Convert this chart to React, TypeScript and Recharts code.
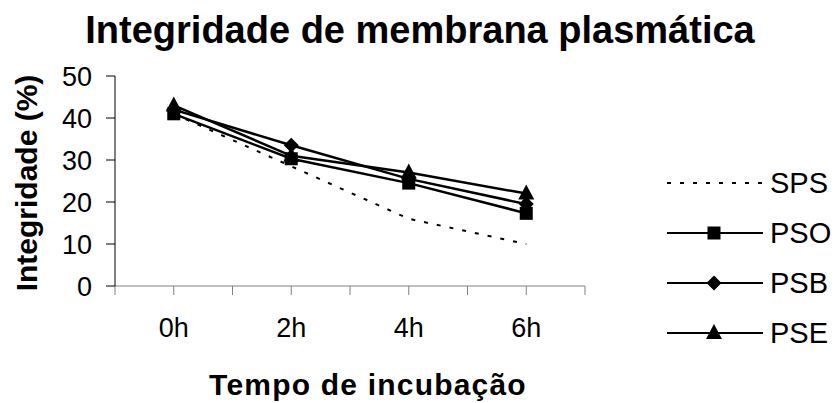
import React from "react";
import { LineChart, Line, XAxis, YAxis, Legend } from "recharts";

const hours = [0, 2, 4, 6];
const sps = [41, 28.5, 16, 10];
const pso = [41, 30.3, 24.5, 17.3];
const psb = [42, 33.5, 25.5, 19.5];
const pse = [43, 31, 27, 22];
const yTicks = [0, 10, 20, 30, 40, 50];
const xTicks = [-1, 0, 1, 2, 3, 4, 5, 6, 7];

const data = hours.map((h, i) => ({
  hour: h,
  SPS: sps[i],
  PSO: pso[i],
  PSB: psb[i],
  PSE: pse[i],
}));

const FONT = "'Liberation Sans', Arial, Helvetica, sans-serif";

const Square = ({ cx, cy }: any) => (
  <rect x={cx - 6.5} y={cy - 6.5} width={13} height={13} fill="#000" />
);
const Diamond = ({ cx, cy }: any) => (
  <polygon
    points={`${cx},${cy - 7.5} ${cx + 7.5},${cy} ${cx},${cy + 7.5} ${cx - 7.5},${cy}`}
    fill="#000"
  />
);
const Triangle = ({ cx, cy }: any) => (
  <polygon
    points={`${cx},${cy - 9} ${cx + 8},${cy + 6} ${cx - 8},${cy + 6}`}
    fill="#000"
  />
);

const legendItems = [
  { name: "SPS", dash: "4 9", Mark: null },
  { name: "PSO", dash: undefined, Mark: Square },
  { name: "PSB", dash: undefined, Mark: Diamond },
  { name: "PSE", dash: undefined, Mark: Triangle },
];

const renderLegend = () => (
  <svg width={178} height={210}>
    {legendItems.map((it, i) => {
      const y = 25 + i * 50;
      const M = it.Mark;
      return (
        <g key={it.name}>
          <line
            x1={5}
            x2={101}
            y1={y}
            y2={y}
            stroke="#000"
            strokeWidth={2}
            strokeDasharray={it.dash}
          />
          {M && <M cx={52} cy={y} />}
          <text
            x={108}
            y={y + 10}
            fontSize={29}
            fontFamily={FONT}
            fill="#000"
          >
            {it.name}
          </text>
        </g>
      );
    })}
  </svg>
);

export default function App() {
  return (
    <div style={{ position: "absolute", left: 0, top: 0, width: 840, height: 403, background: "#fff" }}>
      <LineChart
        width={840}
        height={403}
        data={data}
        margin={{ top: 76, right: 255, bottom: 57, left: 55 }}
      >
        <text
          x={420}
          y={43}
          textAnchor="middle"
          fontSize={38}
          fontWeight="bold"
          fontFamily={FONT}
          fill="#000"
        >
          Integridade de membrana plasmática
        </text>
        <XAxis
          dataKey="hour"
          type="number"
          domain={[-1, 7]}
          ticks={xTicks}
          interval={0}
          tickFormatter={(v: number) => (v >= 0 && v % 2 === 0 ? `${v}h` : "")}
          height={60}
          tickSize={9}
          tickMargin={23}
          stroke="#808080"
          tick={{ fill: "#000", fontSize: 27, fontFamily: FONT }}
          label={{
            content: () => (
              <text
                x={368}
                y={395}
                textAnchor="middle"
                fontSize={30}
                fontWeight="bold"
                letterSpacing={1.2}
                fontFamily={FONT}
                fill="#000"
              >
                Tempo de incubação
              </text>
            ),
          }}
        />
        <YAxis
          domain={[0, 50]}
          ticks={yTicks}
          interval={0}
          width={60}
          tickSize={9}
          tickMargin={14}
          stroke="#000"
          tick={{ fill: "#000", fontSize: 27, fontFamily: FONT }}
          label={{
            content: () => (
              <text
                x={37}
                y={183}
                transform="rotate(-90 37 183)"
                textAnchor="middle"
                fontSize={30}
                fontWeight="bold"
                fontFamily={FONT}
                fill="#000"
              >
                Integridade (%)
              </text>
            ),
          }}
        />
        <Legend
          layout="vertical"
          align="center"
          verticalAlign="middle"
          content={renderLegend}
          wrapperStyle={{ position: "absolute", left: 662, top: 158, width: 178 }}
        />
        <Line
          dataKey="SPS"
          stroke="#000"
          strokeWidth={2}
          strokeDasharray="4 9"
          dot={false}
          isAnimationActive={false}
        />
        <Line
          dataKey="PSO"
          stroke="#000"
          strokeWidth={2.5}
          dot={<Square />}
          isAnimationActive={false}
        />
        <Line
          dataKey="PSB"
          stroke="#000"
          strokeWidth={2.5}
          dot={<Diamond />}
          isAnimationActive={false}
        />
        <Line
          dataKey="PSE"
          stroke="#000"
          strokeWidth={2.5}
          dot={<Triangle />}
          isAnimationActive={false}
        />
      </LineChart>
    </div>
  );
}
